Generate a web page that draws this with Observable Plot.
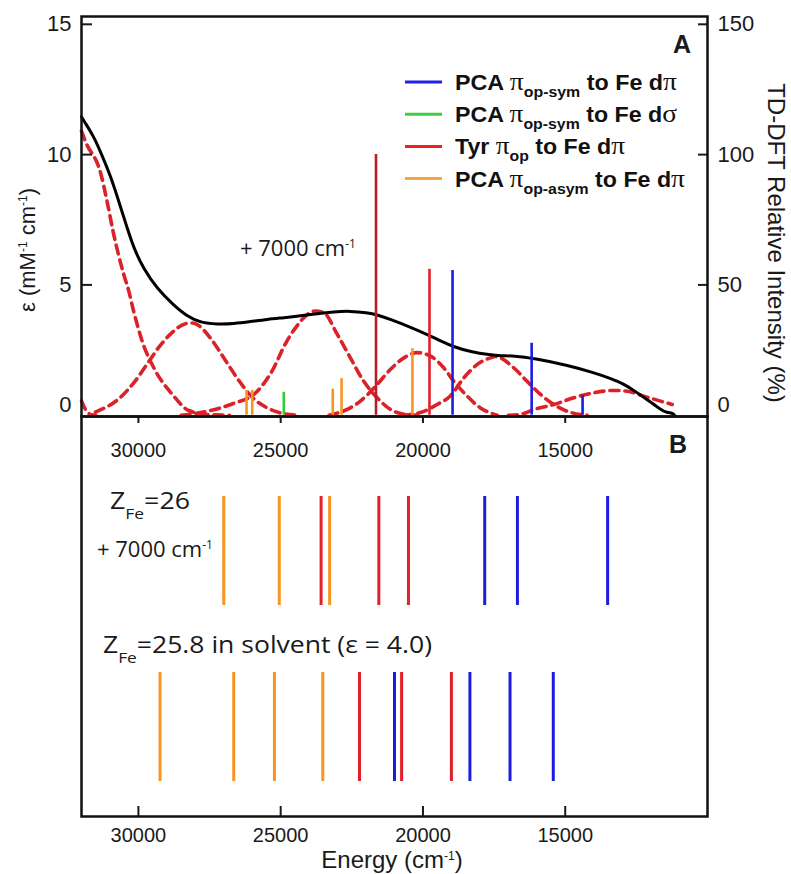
<!DOCTYPE html>
<html>
<head>
<meta charset="utf-8">
<script src="https://cdn.jsdelivr.net/npm/d3@7"></script>
<script src="https://cdn.jsdelivr.net/npm/@observablehq/plot@0.6"></script>
<style>
  html, body { margin: 0; padding: 0; background: #fff; }
  #fig { position: relative; width: 791px; height: 874px; overflow: hidden; background: #fff; }
  #fig svg { position: absolute; left: 0; top: 0; }
</style>
</head>
<body>
<div id="fig"></div>
<script>
// ---------- data ----------
const energyTicks = [30000, 25000, 20000, 15000];
const epsTicks = [0, 5, 10, 15];
const intensityTicks = [0, 50, 100, 150];

const seriesKeys = ["sym", "sigma", "tyr", "asym"];
const seriesColors = ["#1c1ce0", "#35c935", "#e2202a", "#f7951f"];
const tyrStrongColor = "#b5202a";

// experimental absorption spectrum (epsilon, mM-1 cm-1)
const spectrumEnergy = [32000, 31920, 31570, 31330, 30980, 30630, 30400, 30160, 29810, 29340, 28760, 28290, 27820, 27230, 26650, 26060, 25470, 24890, 24300, 23720, 23130, 22550, 21960, 21600, 21140, 20440, 19850, 19380, 18910, 18330, 17630, 17270, 16800, 16100, 14930, 13990, 13410, 12940, 12590, 12120, 11650, 11420, 11240, 11160];
const spectrumEps = [11.45, 11.3, 10.7, 10.1, 9.2, 8.0, 7.2, 6.4, 5.6, 4.85, 4.22, 3.8, 3.55, 3.49, 3.51, 3.59, 3.68, 3.74, 3.81, 3.9, 3.97, 4.0, 3.93, 3.85, 3.68, 3.38, 3.1, 2.85, 2.62, 2.43, 2.31, 2.28, 2.28, 2.18, 1.92, 1.63, 1.41, 1.2, 0.95, 0.6, 0.22, 0.09, 0.09, 0.0];

// Gaussian band components (dashed)
const band0Energy = [32000, 31900, 31780, 31650, 31500];
const band0Eps = [0.55, 0.3, 0.1, 0.02, 0];
const band1Energy = [32000, 31860, 31330, 31100, 30880, 30520, 30340, 30170, 29870, 29400, 28810, 28230, 27540, 26800];
const band1Eps = [10.9, 10.5, 9.3, 8.2, 7.0, 5.42, 4.77, 4.0, 2.85, 1.7, 0.8, 0.18, 0.02, 0];
const band2Energy = [31510, 30690, 30100, 29690, 29280, 28810, 28345, 28100, 27880, 27410, 26940, 26470, 26000, 25420, 24950, 24400];
const band2Eps = [0.12, 0.63, 1.33, 1.97, 2.61, 3.18, 3.51, 3.54, 3.44, 2.87, 2.1, 1.33, 0.69, 0.25, 0.07, 0];
const band3Energy = [28500, 27820, 26660, 25885, 25300, 24830, 24480, 24130, 23780, 23480, 23010, 22550, 22080, 21610, 21140, 20670, 20200];
const band3Eps = [0, 0.1, 0.45, 0.85, 1.7, 2.75, 3.35, 3.8, 4.0, 3.93, 3.1, 2.2, 1.3, 0.67, 0.22, 0.04, 0];
const band4Energy = [23300, 22660, 22200, 21610, 21140, 20670, 20200, 19735, 19270, 18915, 18445, 17980, 17390];
const band4Eps = [0, 0.22, 0.54, 1.18, 1.76, 2.2, 2.4, 2.27, 1.82, 1.3, 0.73, 0.28, 0];
const band5Energy = [20700, 20090, 19520, 19030, 18565, 18090, 17630, 17450, 17275, 16810, 16340, 15870, 15400, 14930, 14230];
const band5Eps = [0, 0.1, 0.4, 0.75, 1.43, 1.95, 2.2, 2.25, 2.2, 1.82, 1.3, 0.8, 0.41, 0.15, 0];
const band6Energy = [17000, 16570, 16100, 15400, 14700, 13995, 13290, 12820, 12240, 11650, 11240];
const band6Eps = [0, 0.03, 0.22, 0.41, 0.67, 0.86, 0.95, 0.92, 0.73, 0.54, 0.41];

// TD-DFT transitions, panel A (relative intensity, %)
const stickEnergy = [26200, 26000, 24890, 23170, 22860, 21650, 20370, 19770, 18960, 16180, 14390];
const stickIntensity = [9.5, 9.5, 8.8, 10, 14, 100, 25.5, 56, 55.5, 27.6, 7.6];
const stickType = ["asym", "asym", "sigma", "asym", "asym", "tyr", "asym", "tyr", "sym", "sym", "sym"];

// Panel B: transition energies of two calculations
const rowKeys = ["Z26", "Z25.8"];
const rowZ26Energy = [27000, 25050, 23580, 23280, 21550, 20510, 17830, 16680, 13510];
const rowZ26Type = ["asym", "asym", "tyr", "asym", "tyr", "tyr", "sym", "sym", "sym"];
const rowZ258Energy = [29240, 26650, 25220, 23520, 22230, 21000, 20750, 19000, 18350, 16940, 15420];
const rowZ258Type = ["asym", "asym", "asym", "asym", "tyr", "sym", "tyr", "tyr", "sym", "sym", "sym"];

// ---------- tables built from the arrays ----------
const colorOf = t => seriesColors[seriesKeys.indexOf(t)];
const spectrum = spectrumEnergy.map((E, i) => ({E, eps: spectrumEps[i]}));
const bands = [
  [band0Energy, band0Eps], [band1Energy, band1Eps], [band2Energy, band2Eps],
  [band3Energy, band3Eps], [band4Energy, band4Eps], [band5Energy, band5Eps], [band6Energy, band6Eps]
].flatMap(([es, vs], k) => es.map((E, i) => ({E, eps: vs[i], band: k})));
const sticks = stickEnergy.map((E, i) => ({E, pct: stickIntensity[i], type: stickType[i]}));
const rowsB = [
  ...rowZ26Energy.map((E, i) => ({E, row: rowKeys[0], type: rowZ26Type[i]})),
  ...rowZ258Energy.map((E, i) => ({E, row: rowKeys[1], type: rowZ258Type[i]}))
];

const W = 791, H = 874;
const fontFamily = "Liberation Sans, Arial, sans-serif";
const baseStyle = {background: "transparent", fontSize: "20px", fontFamily, color: "#1a1a1a", overflow: "visible"};
const xScale = {domain: [32000, 10000], label: null};
const fmt = d3.format("d");
const red = "#dc2229";

// ---------- panel B (drawn first, underneath) ----------
const panelB = Plot.plot({
  width: W, height: H,
  marginLeft: 81, marginRight: 84, marginTop: 416, marginBottom: 58,
  style: baseStyle,
  x: xScale,
  y: {domain: rowKeys, paddingInner: 0.38, paddingOuter: 0.32, align: 0.7, axis: null, label: null},
  marks: [
    Plot.tickX(rowsB, {x: "E", y: "row", stroke: d => colorOf(d.type), strokeWidth: 3}),
    Plot.axisX(energyTicks, {anchor: "bottom", tickSize: -10, tickPadding: 21, tickFormat: fmt, label: null, strokeWidth: 2}),
    Plot.frame({stroke: "#111", strokeWidth: 2.5})
  ]
});

// ---------- panel A ----------
const panelA = Plot.plot({
  width: W, height: 470,
  marginLeft: 81, marginRight: 84, marginTop: 16, marginBottom: 54,
  style: baseStyle,
  x: xScale,
  y: {domain: [-0.05, 15.3], label: null},
  marks: [
    Plot.line(bands, {x: "E", y: "eps", z: "band", stroke: red, strokeWidth: 3.6, strokeDasharray: "9,6", curve: "monotone-x"}),
    Plot.line(spectrum, {x: "E", y: "eps", stroke: "#000", strokeWidth: 3, curve: "basis"}),
    Plot.ruleX(sticks, {x: "E", y1: 0, y2: d => d.pct / 10,
      stroke: d => d.pct >= 100 ? tyrStrongColor : colorOf(d.type), strokeWidth: 2.6}),
    // left axis (epsilon)
    Plot.axisY(epsTicks.filter(v => v > 0), {anchor: "left", tickSize: -11, tickPadding: 21, fontSize: 22, label: null, strokeWidth: 2}),
    Plot.axisY(epsTicks.filter(v => v === 0), {anchor: "left", tickSize: 0, tickPadding: 10, dy: -10, fontSize: 22, label: null}),
    // right axis (TD-DFT relative intensity %)
    Plot.axisY(intensityTicks.filter(v => v > 0).map(v => v / 10), {anchor: "right", tickSize: -10, tickPadding: 20, fontSize: 22, tickFormat: d => fmt(d * 10), label: null, strokeWidth: 2}),
    Plot.axisY(intensityTicks.filter(v => v === 0).map(v => v / 10), {anchor: "right", tickSize: 0, tickPadding: 10, dy: -10, fontSize: 22, tickFormat: d => fmt(d * 10), label: null}),
    Plot.axisX(energyTicks, {anchor: "bottom", tickSize: 7, tickPadding: 19, tickFormat: fmt, label: null, strokeWidth: 2}),
    Plot.frame({stroke: "#111", strokeWidth: 2.5})
  ]
});

// ---------- text overlay ----------
const ov = d3.create("svg").attr("width", W).attr("height", H).style("pointer-events", "none");
function label(x, y, parts, o = {}) {
  const t = ov.append("text")
    .attr("x", x).attr("y", y)
    .attr("font-family", o.family || fontFamily)
    .attr("font-size", o.size || 20)
    .attr("font-weight", o.weight || "normal")
    .attr("fill", o.fill || "#1a1a1a")
    .attr("text-anchor", o.anchor || "start");
  if (o.transform) t.attr("transform", o.transform);
  if (o.length) t.attr("textLength", o.length).attr("lengthAdjust", "spacingAndGlyphs");
  let off = 0;
  for (const p of parts) {
    const part = typeof p === "string" ? {t: p} : p;
    const shift = part.shift || 0;
    const s = t.append("tspan").text(part.t).attr("dy", shift - off);
    off = shift;
    if (part.size) s.attr("font-size", part.size);
    if (part.family) s.attr("font-family", part.family);
    if (part.weight) s.attr("font-weight", part.weight);
  }
  return t;
}
const annFont = "Open Sans, Liberation Sans, sans-serif";
const sup = {shift: -8, size: 12};
const serif = "Liberation Serif, DejaVu Serif, serif";
const pi = {t: "π", family: serif, weight: "normal", size: 26};

// axis titles
label(0, 0, ["ε (mM", {t: "-1", ...sup}, " cm", {t: "-1", ...sup}, ")"], {size: 22, anchor: "middle", transform: "translate(35,250) rotate(-90)"});
label(0, 0, ["TD-DFT Relative Intensity (%)"], {size: 24, anchor: "middle", transform: "translate(768,243) rotate(90)"});
label(392, 868, ["Energy (cm", {t: "-1", ...sup}, ")"], {size: 24, anchor: "middle"});

// panel letters
label(682, 53, ["A"], {size: 25, weight: "bold", anchor: "middle"});
label(678, 453, ["B"], {size: 25, weight: "bold", anchor: "middle"});

// legend
const sub = t => ({t, shift: 7, size: 15});
const legendNames = [
  ["PCA ", pi, sub("op-sym"), " to Fe d", pi],
  ["PCA ", pi, sub("op-sym"), " to Fe d", {t: "σ", family: serif, weight: "normal", size: 26}],
  ["Tyr ", pi, sub("op"), " to Fe d", pi],
  ["PCA ", pi, sub("op-asym"), " to Fe d", pi]
];
const legendWidths = [222, 222, 170, 230];
const legendColors = ["#2222e6", "#3ccf3c", "#ee2222", "#f7a53c"];
legendNames.forEach((parts, i) => {
  const yc = 82 + i * 32.2;
  ov.append("line").attr("x1", 405).attr("x2", 442).attr("y1", yc).attr("y2", yc)
    .attr("stroke", legendColors[i]).attr("stroke-width", 3);
  label(455, yc + 8, parts, {size: 22, weight: "bold", fill: "#111", length: legendWidths[i]});
});

// annotations
label(240, 256, ["+ 7000 cm", {t: "-1", ...sup}], {size: 22, family: annFont});
label(110, 509, ["Z", {t: "Fe", shift: 10, size: 15}, "=26"], {size: 23, family: annFont, length: 80});
label(97, 557, ["+ 7000 cm", {t: "-1", ...sup}], {size: 22, family: annFont});
label(103, 653, ["Z", {t: "Fe", shift: 10, size: 15}, "=25.8 in solvent (ε = 4.0)"], {size: 23, family: annFont, length: 329});

const fig = document.getElementById("fig");
fig.append(panelB, panelA, ov.node());
</script>
</body>
</html>
